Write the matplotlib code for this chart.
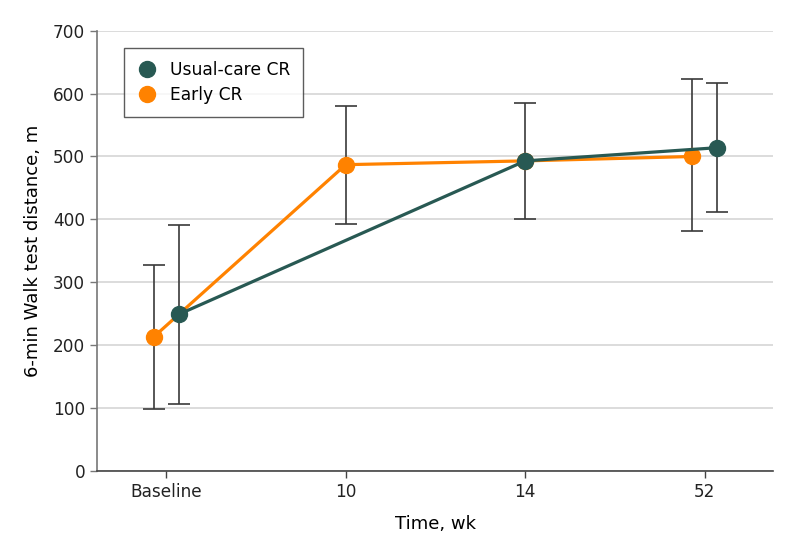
import numpy as np
import matplotlib
matplotlib.use("Agg")
import matplotlib.pyplot as plt

plt.rcParams['font.family'] = ['DejaVu Sans']

# Data
time_labels = ['Baseline', '10', '14', '52']

usual_idx = [0, 2, 3]
usual_mean = [249, 493, 514]
usual_lo = [107, 401, 412]
usual_hi = [391, 585, 617]

early_idx = [0, 1, 2, 3]
early_mean = [213, 487, 493, 500]
early_lo = [99, 392, None, 381]
early_hi = [328, 580, None, 623]

green = '#285953'
orange = '#ff8200'

fig = plt.figure(figsize=(7.94, 5.56), dpi=100)
ax = fig.add_axes([0.1222, 0.1529, 0.8514, 0.7919])

# small horizontal offset where both groups share a time point
dodge = 0.07
def shift(idx, sign, other):
    return [i + sign * dodge if i in other else i for i in idx]

shared = [0, 3]
x_usual = shift(usual_idx, +1, shared)
x_early = shift(early_idx, -1, shared)

# error bars
for xs, lo, hi in [(x_early, early_lo, early_hi), (x_usual, usual_lo, usual_hi)]:
    for x, a, b in zip(xs, lo, hi):
        if a is None:
            continue
        ax.errorbar([x], [(a + b) / 2], yerr=[[(b - a) / 2], [(b - a) / 2]],
                    fmt='none', ecolor='#3a3a3a', elinewidth=1.2, capsize=8,
                    capthick=1.2, zorder=2)

ax.plot(x_early, early_mean, color=orange, lw=2.3, marker='o', ms=11.5,
        label='Early CR', zorder=3)
ax.plot(x_usual, usual_mean, color=green, lw=2.3, marker='o', ms=11.5,
        label='Usual-care CR', zorder=4)

ax.set_xlim(-0.385, 3.38)
ax.set_ylim(0, 700)
ax.set_xticks(range(len(time_labels)))
ax.set_xticklabels(time_labels)
ax.set_yticks(np.arange(0, 701, 100))

ax.yaxis.grid(True, color='#d9d9d9', lw=1.3)
ax.set_axisbelow(True)
for s in ['top', 'right']:
    ax.spines[s].set_visible(False)
ax.spines['left'].set_color('#777777')
ax.spines['bottom'].set_color('#444444')
ax.spines['left'].set_linewidth(1.2)
ax.spines['bottom'].set_linewidth(1.2)
ax.tick_params(axis='both', labelsize=12.2, colors='#222222', length=5, width=1)
ax.tick_params(axis='y', color='#777777')
ax.tick_params(axis='x', color='#444444')

ax.set_xlabel('Time, wk', fontsize=13, labelpad=10)
ax.set_ylabel('6-min Walk test distance, m', fontsize=13, labelpad=8)

handles, labels = ax.get_legend_handles_labels()
leg = ax.legend(handles[::-1], labels[::-1], loc='upper left',
                bbox_to_anchor=(0.04, 0.9607), borderaxespad=0,
                fontsize=12.3, frameon=True, fancybox=False,
                edgecolor='#333333', handlelength=1.2, handletextpad=0.75,
                borderpad=0.75, labelspacing=0.42)
leg.get_frame().set_linewidth(1.0)
for h in leg.legend_handles:
    h.set_linestyle('none')

fig.savefig('out.png', dpi=100)
